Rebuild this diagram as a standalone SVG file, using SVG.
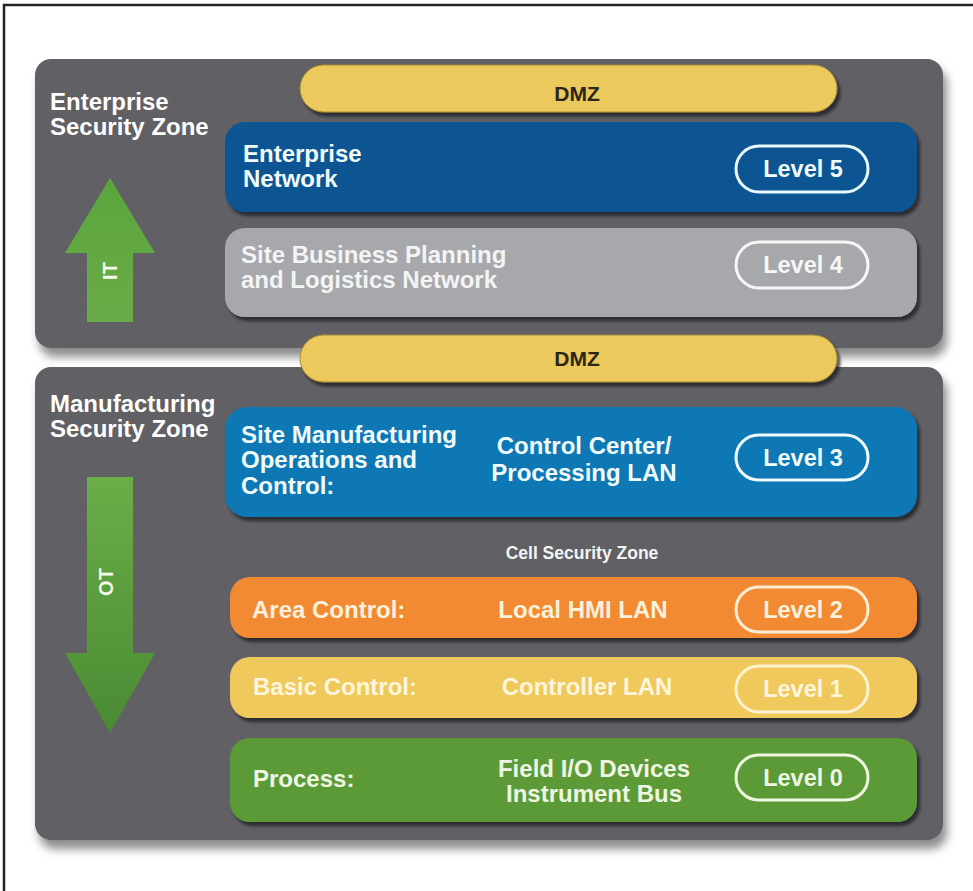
<svg xmlns="http://www.w3.org/2000/svg" width="973" height="891" viewBox="0 0 973 891">
  <defs>
    <filter id="zoneShadow" x="-5%" y="-5%" width="112%" height="120%">
      <feDropShadow dx="4" dy="9" stdDeviation="5" flood-color="#000" flood-opacity="0.45"/>
    </filter>
    <filter id="boxShadow" x="-5%" y="-10%" width="112%" height="130%">
      <feDropShadow dx="3" dy="4" stdDeviation="1.5" flood-color="#1e1d22" flood-opacity="0.75"/>
    </filter>
    <linearGradient id="arrowUp" x1="0" y1="0" x2="0" y2="1">
      <stop offset="0" stop-color="#5aa53c"/>
      <stop offset="1" stop-color="#6aac47"/>
    </linearGradient>
    <linearGradient id="arrowDown" x1="0" y1="0" x2="0" y2="1">
      <stop offset="0" stop-color="#6aae47"/>
      <stop offset="1" stop-color="#4a8a33"/>
    </linearGradient>
    <style>
      .zone { fill: #616065; filter: url(#zoneShadow); }
      .box { filter: url(#boxShadow); }
      .t { font-family: "Liberation Sans", Arial, sans-serif; font-weight: bold; font-size: 24px; }
      .zt { fill: #ffffff; }
      .dmz { fill: #ecc95c; stroke: #a48a32; stroke-width: 1; }
      .dmzt { fill: #2b2618; font-size: 21px; text-anchor: middle; }
      .pill { fill: none; stroke-width: 3; }
      .lvl { text-anchor: middle; font-size: 23.5px; }
      .mid { text-anchor: middle; }
      .small { font-size: 17.5px; }
      .arrowt { font-size: 20px; fill: #f4f8ee; text-anchor: middle; }
    </style>
  </defs>

  <rect width="973" height="891" fill="#ffffff"/>
  <path d="M4,891 V5 H973" fill="none" stroke="#222222" stroke-width="2.5"/>

  <!-- Enterprise Security Zone -->
  <g id="enterprise-zone">
    <rect class="zone" x="35" y="59" width="908" height="289" rx="16"/>
    <text class="t zt" x="50" y="110">Enterprise</text>
    <text class="t zt" x="50" y="135">Security Zone</text>
  </g>

  <!-- Manufacturing Security Zone -->
  <g id="manufacturing-zone">
    <rect class="zone" x="35" y="367" width="908" height="473" rx="16"/>
    <text class="t zt" x="50" y="412">Manufacturing</text>
    <text class="t zt" x="50" y="437">Security Zone</text>
  </g>

  <g id="dmz-top">
    <rect class="dmz box" x="300" y="65" width="537" height="47" rx="23.5"/>
    <text class="t dmzt" x="577" y="101">DMZ</text>
  </g>

  <g id="dmz-bottom">
    <rect class="dmz box" x="300" y="335" width="537" height="47" rx="23.5"/>
    <text class="t dmzt" x="577" y="366">DMZ</text>
  </g>

  <g id="level5">
    <rect class="box" x="225" y="122" width="692" height="90" rx="20" fill="#0b5592"/>
    <text class="t" fill="#f2fbfc" x="243" y="162">Enterprise</text>
    <text class="t" fill="#f2fbfc" x="243" y="187">Network</text>
    <rect class="pill" x="736" y="146" width="132" height="46" rx="23" stroke="#e8fafb"/>
    <text class="t lvl" fill="#f2fbfc" x="803" y="177">Level 5</text>
  </g>

  <g id="level4">
    <rect class="box" x="225" y="228" width="692" height="89" rx="20" fill="#a6a8ab"/>
    <text class="t" fill="#f4f4f4" x="241" y="263">Site Business Planning</text>
    <text class="t" fill="#f4f4f4" x="241" y="288">and Logistics Network</text>
    <rect class="pill" x="736" y="242" width="132" height="46" rx="23" stroke="#f7f7f7"/>
    <text class="t lvl" fill="#f7f7f7" x="803" y="273">Level 4</text>
  </g>

  <g id="level3">
    <rect class="box" x="225" y="407" width="692" height="110" rx="22" fill="#0f78b4"/>
    <text class="t" fill="#f2fbfc" x="241" y="443">Site Manufacturing</text>
    <text class="t" fill="#f2fbfc" x="241" y="468">Operations and</text>
    <text class="t" fill="#f2fbfc" x="241" y="494">Control:</text>
    <text class="t mid" fill="#f2fbfc" x="584" y="454">Control Center/</text>
    <text class="t mid" fill="#f2fbfc" x="584" y="481">Processing LAN</text>
    <rect class="pill" x="736" y="435" width="132" height="45" rx="22.5" stroke="#eefafb"/>
    <text class="t lvl" fill="#f2fbfc" x="803" y="466">Level 3</text>
  </g>

  <g id="cell-zone-label">
    <text class="t mid small" fill="#f4f4f4" x="582" y="559">Cell Security Zone</text>
  </g>

  <g id="level2">
    <rect class="box" x="230" y="577" width="687" height="61" rx="20" fill="#f18a30"/>
    <text class="t" fill="#fdf1dc" x="252" y="618">Area Control:</text>
    <text class="t mid" fill="#fdf1dc" x="583" y="618">Local HMI LAN</text>
    <rect class="pill" x="736" y="587" width="132" height="45" rx="22.5" stroke="#fcecd2"/>
    <text class="t lvl" fill="#fdf1dc" x="803" y="618">Level 2</text>
  </g>

  <g id="level1">
    <rect class="box" x="230" y="657" width="687" height="61" rx="20" fill="#efc95c"/>
    <text class="t" fill="#fdf6dc" x="253" y="695">Basic Control:</text>
    <text class="t mid" fill="#fdf6dc" x="587" y="695">Controller LAN</text>
    <rect class="pill" x="736" y="666" width="132" height="46" rx="23" stroke="#fdf3d2"/>
    <text class="t lvl" fill="#fdf6dc" x="803" y="697">Level 1</text>
  </g>

  <g id="level0">
    <rect class="box" x="230" y="738" width="687" height="84" rx="20" fill="#5c9a38"/>
    <text class="t" fill="#eef6e2" x="253" y="787">Process:</text>
    <text class="t mid" fill="#eef6e2" x="594" y="777">Field I/O Devices</text>
    <text class="t mid" fill="#eef6e2" x="594" y="802">Instrument Bus</text>
    <rect class="pill" x="736" y="755" width="132" height="45" rx="22.5" stroke="#eef6e2"/>
    <text class="t lvl" fill="#eef6e2" x="803" y="786">Level 0</text>
  </g>

  <g id="connectors">
    <g id="it-arrow">
      <polygon points="110,178 155,253 133,253 133,322 87,322 87,253 65,253" fill="url(#arrowUp)"/>
      <text class="t arrowt" transform="translate(117,271) rotate(-90)">IT</text>
    </g>
    <g id="ot-arrow">
      <polygon points="87,477 133,477 133,653 155,653 110,733 65,653 87,653" fill="url(#arrowDown)"/>
      <text class="t arrowt" transform="translate(113,582) rotate(-90)">OT</text>
    </g>
  </g>
</svg>
